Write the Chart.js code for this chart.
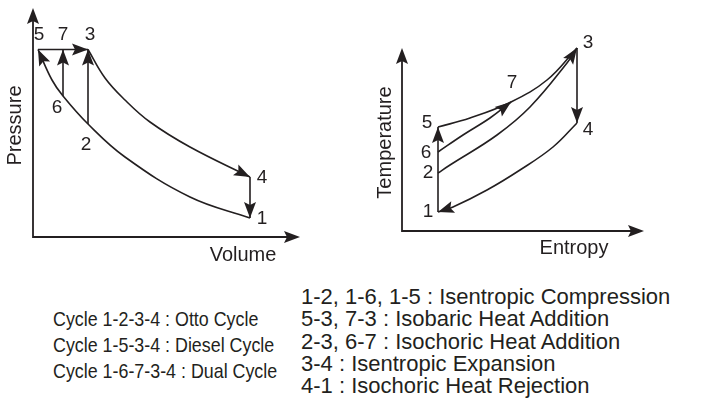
<!DOCTYPE html>
<html>
<head>
<meta charset="utf-8">
<script src="https://cdn.jsdelivr.net/npm/chart.js@4.4.1/dist/chart.umd.min.js"></script>
<style>
  body { margin: 0; background: #fff; }
  #wrap { position: relative; width: 705px; height: 404px; overflow: hidden; font-family: "Liberation Sans", Arial, sans-serif; color: #231f20; }
  #pvChart { position: absolute; left: 0; top: 0; }
  #tsChart { position: absolute; left: 360px; top: 0; }
  .notes { position: absolute; margin: 0; padding: 0; list-style: none; white-space: nowrap; }
  #cycleNotes { left: 53px; top: 306px; font-size: 21px; line-height: 26px; transform: scaleX(0.85); transform-origin: left top; }
  #processNotes { left: 301px; top: 286px; font-size: 22px; line-height: 22.3px; }
</style>
</head>
<body>
<div id="wrap">
  <canvas id="pvChart" width="340" height="270"></canvas>
  <canvas id="tsChart" width="345" height="270"></canvas>
  <ul class="notes" id="cycleNotes"></ul>
  <ul class="notes" id="processNotes"></ul>
</div>
<script>
// 상태점 이름
const stateLabels = ['1', '2', '3', '4', '5', '6', '7'];

// P-V 선도 상태점 (부피, 압력)
const pvVolume = [8.68, 2.2, 2.2, 8.68, 0.2, 1.2, 1.2];
const pvPressure = [0.76, 4.52, 7.5, 2.4, 7.5, 5.64, 7.5];

// P-V 곡선 (그림에서 읽은 점)
const pvCompVolume = [8.68, 6.28, 3.68, 2.2, 1.2, 0.76, 0.2];      // 1 → 2 → 6 → 5
const pvCompPressure = [0.76, 1.6, 3.2, 4.52, 5.64, 6.28, 7.5];
const pvExpVolume = [2.2, 2.88, 3.68, 4.68, 6.28, 8.68];            // 3 → 4
const pvExpPressure = [7.5, 6.36, 5.48, 4.6, 3.6, 2.4];

// T-s 선도 상태점 (엔트로피, 온도)
const tsEntropy = [1.44, 1.44, 7.0, 7.0, 1.44, 1.44, 4.36];
const tsTemperature = [0.76, 2.32, 7.32, 4.32, 4.16, 3.16, 5.16];

// T-s 곡선
const ts53Entropy = [1.44, 2.72, 4.36, 5.8, 7.0];
const ts53Temp = [4.16, 4.52, 5.16, 6.04, 7.32];
const ts67Entropy = [1.44, 2.44, 3.52, 4.36];
const ts67Temp = [3.16, 3.84, 4.52, 5.16];
const ts23Entropy = [1.44, 1.92, 3.8, 5.12, 6.6, 7.0];
const ts23Temp = [2.32, 2.64, 3.84, 4.96, 6.72, 7.32];
const ts41Entropy = [7.0, 6.04, 4.72, 3.4, 2.04, 1.44];
const ts41Temp = [4.32, 3.36, 2.44, 1.64, 0.96, 0.76];

// 직선 과정 (시작, 끝)
const pvStraight = [['5', '3'], ['2', '3'], ['6', '7'], ['4', '1']];
const tsStraight = [['1', '5'], ['3', '4']];

// 하단 설명
const cycleNotes = [
  'Cycle 1-2-3-4 : Otto Cycle',
  'Cycle 1-5-3-4 : Diesel Cycle',
  'Cycle 1-6-7-3-4 : Dual Cycle'
];
const processNotes = [
  '1-2, 1-6, 1-5 : Isentropic Compression',
  '5-3, 7-3 : Isobaric Heat Addition',
  '2-3, 6-7 : Isochoric Heat Addition',
  '3-4 : Isentropic Expansion',
  '4-1 : Isochoric Heat Rejection'
];

const ink = '#231f20';
const fontFamily = "'Liberation Sans', Arial, sans-serif";

// 화살촉 그리기
function drawArrowHead(ctx, x, y, fromX, fromY) {
  const ang = Math.atan2(y - fromY, x - fromX);
  ctx.save();
  ctx.translate(x, y);
  ctx.rotate(ang);
  ctx.beginPath();
  ctx.moveTo(0, 0);
  ctx.lineTo(-16, -6);
  ctx.lineTo(-13, 0);
  ctx.lineTo(-16, 6);
  ctx.closePath();
  ctx.fillStyle = ink;
  ctx.fill();
  ctx.restore();
}

function lineSet(xs, ys, arrow, tension) {
  return {
    data: xs.map((x, i) => ({ x: x, y: ys[i] })),
    showLine: true,
    borderColor: ink,
    borderWidth: 1.6,
    pointRadius: 0,
    tension: tension,
    arrow: arrow,
    clip: false
  };
}

function straightSets(pairs, xs, ys) {
  return pairs.map(p => {
    const a = stateLabels.indexOf(p[0]);
    const b = stateLabels.indexOf(p[1]);
    return lineSet([xs[a], xs[b]], [ys[a], ys[b]], true, 0);
  });
}

// 축, 화살표, 라벨 플러그인
const diagramPlugin = {
  id: 'diagram',
  beforeDatasetsDraw(chart, args, opts) {
    const { ctx, chartArea: a } = chart;
    ctx.save();
    ctx.strokeStyle = ink;
    ctx.lineWidth = 1.8;
    ctx.beginPath();
    ctx.moveTo(a.left, a.top + 8);
    ctx.lineTo(a.left, a.bottom);
    ctx.lineTo(a.right - 8, a.bottom);
    ctx.stroke();
    drawArrowHead(ctx, a.left, a.top, a.left, a.bottom);
    drawArrowHead(ctx, a.right, a.bottom, a.left, a.bottom);

    ctx.fillStyle = ink;
    ctx.font = '20px ' + fontFamily;
    ctx.textAlign = 'center';
    ctx.textBaseline = 'middle';
    ctx.fillText(opts.xTitle.text, a.right + opts.xTitle.dx, a.bottom + opts.xTitle.dy);
    ctx.save();
    ctx.translate(a.left + opts.yTitle.dx, (a.top + a.bottom) / 2 + opts.yTitle.dy);
    ctx.rotate(-Math.PI / 2);
    ctx.fillText(opts.yTitle.text, 0, 0);
    ctx.restore();
    ctx.restore();
  },
  afterDatasetsDraw(chart, args, opts) {
    const ctx = chart.ctx;
    ctx.save();
    chart.data.datasets.forEach((ds, i) => {
      if (!ds.arrow) return;
      const pts = chart.getDatasetMeta(i).data;
      const end = pts[pts.length - 1];
      const prev = pts[pts.length - 2];
      drawArrowHead(ctx, end.x, end.y, prev.x, prev.y);
    });

    const xs = chart.scales.x, ys = chart.scales.y;
    ctx.fillStyle = ink;
    ctx.font = '19px ' + fontFamily;
    ctx.textAlign = 'center';
    ctx.textBaseline = 'middle';
    stateLabels.forEach((lb, i) => {
      const off = opts.offsets[lb];
      ctx.fillText(lb, xs.getPixelForValue(opts.xVals[i]) + off[0], ys.getPixelForValue(opts.yVals[i]) + off[1]);
    });
    ctx.restore();
  }
};

function makeDiagram(id, datasets, xMax, yMax, padding, diagramOpts) {
  return new Chart(document.getElementById(id), {
    type: 'scatter',
    data: { datasets: datasets },
    options: {
      responsive: false,
      animation: false,
      events: [],
      layout: { padding: padding },
      plugins: { legend: { display: false }, tooltip: { enabled: false }, diagram: diagramOpts },
      scales: {
        x: { type: 'linear', display: false, min: 0, max: xMax },
        y: { type: 'linear', display: false, min: 0, max: yMax }
      }
    },
    plugins: [diagramPlugin]
  });
}

// P-V 선도
makeDiagram('pvChart',
  [
    lineSet(pvCompVolume, pvCompPressure, true, 0.4),
    lineSet(pvExpVolume, pvExpPressure, true, 0.4)
  ].concat(straightSets(pvStraight, pvVolume, pvPressure)),
  10.68, 9.16,
  { left: 33, right: 40, top: 8, bottom: 33 },
  {
    xVals: pvVolume, yVals: pvPressure,
    offsets: { '1': [12, 1], '2': [-2, 21], '3': [2, -15], '4': [12, 1], '5': [1, -15], '6': [-6, 12], '7': [0, -15] },
    xTitle: { text: 'Volume', dx: -57, dy: 18 },
    yTitle: { text: 'Pressure', dx: -18, dy: 3 }
  }
);

// T-s 선도
makeDiagram('tsChart',
  [
    lineSet(ts53Entropy, ts53Temp, false, 0.4),
    lineSet(ts67Entropy, ts67Temp, true, 0.4),
    lineSet(ts23Entropy, ts23Temp, true, 0.4),
    lineSet(ts41Entropy, ts41Temp, true, 0.4)
  ].concat(straightSets(tsStraight, tsEntropy, tsTemperature)),
  9.68, 7.32,
  { left: 42, right: 61, top: 48, bottom: 39 },
  {
    xVals: tsEntropy, yVals: tsTemperature,
    offsets: { '1': [-10, 0], '2': [-10, 0], '3': [11, -5], '4': [11, 7], '5': [-11, -4], '6': [-12, 1], '7': [1, -19] },
    xTitle: { text: 'Entropy', dx: -70, dy: 17 },
    yTitle: { text: 'Temperature', dx: -17, dy: 3 }
  }
);

// 하단 설명 채우기
function fillNotes(id, lines) {
  const ul = document.getElementById(id);
  lines.forEach(t => {
    const li = document.createElement('li');
    li.textContent = t;
    ul.appendChild(li);
  });
}
fillNotes('cycleNotes', cycleNotes);
fillNotes('processNotes', processNotes);
</script>
</body>
</html>
